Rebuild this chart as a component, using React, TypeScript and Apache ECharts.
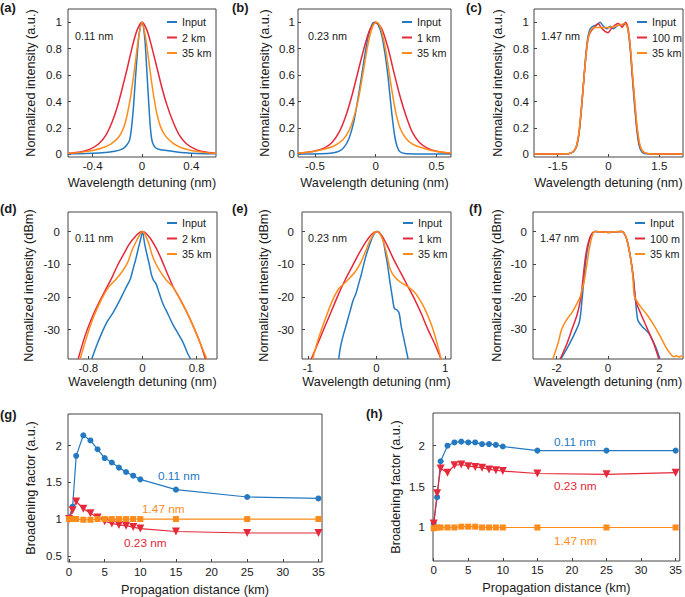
import React, { useEffect, useRef } from 'react';
import * as echarts from 'echarts';

const FONT = "'Liberation Sans', Arial, Helvetica, sans-serif";
const TXT = '#1a1a1a';
const BLUE = '#2479c1';
const RED = '#e5283a';
const ORANGE = '#ff8c1a';

// ---------- Panel (a) 0.11 nm, linear ----------
const aInput = [[-0.6,0.004],[-0.45,0.007],[-0.35,0.011],[-0.26,0.018],[-0.19,0.03],[-0.15,0.045],[-0.12,0.075],[-0.1,0.11],[-0.085,0.2],[-0.07,0.35],[-0.055,0.55],[-0.04,0.74],[-0.025,0.9],[-0.01,0.98],[0,1],[0.012,0.96],[0.025,0.85],[0.04,0.62],[0.055,0.38],[0.07,0.18],[0.085,0.09],[0.11,0.05],[0.15,0.035],[0.2,0.03],[0.27,0.02],[0.35,0.012],[0.45,0.007],[0.6,0.004]];
const a2km = [[-0.6,0.008],[-0.5,0.018],[-0.42,0.04],[-0.35,0.08],[-0.29,0.15],[-0.24,0.25],[-0.2,0.36],[-0.16,0.5],[-0.12,0.65],[-0.08,0.81],[-0.04,0.94],[0,1],[0.04,0.94],[0.08,0.81],[0.12,0.66],[0.16,0.51],[0.2,0.38],[0.25,0.25],[0.3,0.15],[0.36,0.08],[0.43,0.04],[0.5,0.02],[0.6,0.008]];
const a35km = [[-0.6,0.008],[-0.5,0.015],[-0.4,0.03],[-0.32,0.05],[-0.25,0.08],[-0.19,0.13],[-0.15,0.2],[-0.12,0.3],[-0.09,0.45],[-0.06,0.65],[-0.03,0.87],[0,1],[0.03,0.88],[0.06,0.67],[0.09,0.47],[0.12,0.31],[0.15,0.21],[0.19,0.14],[0.25,0.085],[0.32,0.05],[0.4,0.03],[0.5,0.015],[0.6,0.008]];

// ---------- Panel (b) 0.23 nm, linear ----------
const bInput = [[-0.64,0.003],[-0.45,0.005],[-0.36,0.01],[-0.3,0.025],[-0.26,0.055],[-0.22,0.12],[-0.18,0.25],[-0.15,0.4],[-0.12,0.57],[-0.09,0.75],[-0.06,0.9],[-0.03,0.985],[-0.01,1],[0.02,0.98],[0.05,0.9],[0.08,0.74],[0.1,0.6],[0.12,0.42],[0.14,0.25],[0.16,0.12],[0.18,0.05],[0.2,0.02],[0.24,0.006],[0.35,0.003],[0.62,0.002]];
const b1km = [[-0.64,0.01],[-0.52,0.022],[-0.43,0.045],[-0.36,0.09],[-0.3,0.17],[-0.25,0.28],[-0.2,0.43],[-0.15,0.61],[-0.1,0.79],[-0.05,0.94],[0,1],[0.05,0.95],[0.1,0.81],[0.15,0.62],[0.2,0.44],[0.25,0.29],[0.3,0.17],[0.36,0.09],[0.43,0.045],[0.52,0.02],[0.62,0.008]];
const b35km = [[-0.64,0.01],[-0.52,0.02],[-0.42,0.04],[-0.34,0.065],[-0.27,0.11],[-0.22,0.18],[-0.18,0.28],[-0.14,0.43],[-0.1,0.64],[-0.06,0.85],[-0.02,0.98],[0.01,1],[0.04,0.96],[0.08,0.8],[0.12,0.56],[0.16,0.34],[0.2,0.2],[0.25,0.12],[0.3,0.08],[0.38,0.05],[0.48,0.025],[0.62,0.01]];

// ---------- Panel (c) 1.47 nm, linear ----------
const cInput = [[-2.2,0.002],[-1.3,0.003],[-1.1,0.01],[-1.0,0.03],[-0.92,0.08],[-0.85,0.2],[-0.78,0.4],[-0.72,0.6],[-0.66,0.78],[-0.6,0.9],[-0.54,0.95],[-0.45,0.97],[-0.35,0.98],[-0.25,1.0],[-0.15,0.97],[-0.05,0.95],[0.05,0.97],[0.15,0.95],[0.25,0.97],[0.35,0.98],[0.45,0.98],[0.52,0.99],[0.58,0.93],[0.64,0.8],[0.7,0.6],[0.76,0.4],[0.83,0.2],[0.9,0.07],[0.98,0.02],[1.1,0.005],[2.2,0.002]];
const c100m = [[-2.2,0.002],[-1.2,0.004],[-1.05,0.02],[-0.95,0.06],[-0.87,0.17],[-0.8,0.35],[-0.73,0.56],[-0.66,0.76],[-0.6,0.88],[-0.52,0.93],[-0.42,0.96],[-0.3,0.99],[-0.22,0.96],[-0.1,0.93],[-0.02,0.92],[0.08,0.95],[0.2,0.98],[0.3,0.99],[0.4,0.96],[0.5,1.0],[0.58,0.95],[0.64,0.82],[0.7,0.62],[0.77,0.4],[0.84,0.2],[0.92,0.07],[1.02,0.02],[1.2,0.005],[2.2,0.002]];
const c35km = [[-2.2,0.002],[-1.2,0.004],[-1.05,0.02],[-0.95,0.06],[-0.87,0.17],[-0.8,0.35],[-0.73,0.56],[-0.66,0.76],[-0.6,0.88],[-0.52,0.94],[-0.4,0.96],[-0.2,0.96],[0,0.96],[0.2,0.97],[0.35,0.98],[0.48,0.99],[0.56,0.96],[0.63,0.85],[0.7,0.64],[0.77,0.42],[0.84,0.22],[0.92,0.08],[1.02,0.02],[1.2,0.005],[2.2,0.002]];

// ---------- Panel (d) 0.11 nm, dBm ----------
const dInput = [[-0.75,-39],[-0.68,-35],[-0.6,-31],[-0.52,-27.5],[-0.44,-25],[-0.36,-22],[-0.3,-19.5],[-0.24,-17],[-0.18,-14.5],[-0.14,-11.5],[-0.1,-8.5],[-0.06,-5],[-0.03,-2.5],[0,0],[0.03,-3.5],[0.06,-6.5],[0.1,-10],[0.13,-13],[0.16,-14.8],[0.2,-16],[0.25,-19],[0.3,-22],[0.37,-25],[0.45,-28.5],[0.52,-31],[0.6,-34],[0.66,-37],[0.71,-39]];
const d2km = [[-0.95,-39],[-0.85,-32],[-0.75,-26.5],[-0.65,-22],[-0.55,-18],[-0.45,-14],[-0.36,-10],[-0.28,-7],[-0.2,-4],[-0.12,-1.8],[-0.05,-0.4],[0,0],[0.05,-0.5],[0.12,-2.2],[0.2,-5],[0.28,-8.5],[0.36,-12.5],[0.45,-16.8],[0.55,-20.5],[0.65,-24.5],[0.75,-29],[0.85,-34],[0.93,-39]];
const d35km = [[-0.92,-39],[-0.82,-32],[-0.72,-26],[-0.6,-20.5],[-0.5,-17],[-0.4,-14.8],[-0.3,-12.2],[-0.22,-9.5],[-0.15,-5.5],[-0.08,-2.5],[-0.03,-0.6],[0,0],[0.04,-1],[0.09,-3.5],[0.14,-7],[0.2,-10],[0.27,-12.5],[0.35,-14.8],[0.45,-17],[0.55,-20.5],[0.65,-24.5],[0.75,-29],[0.85,-34],[0.95,-39]];

// ---------- Panel (e) 0.23 nm, dBm ----------
const eInput = [[-0.55,-39],[-0.53,-36],[-0.5,-33],[-0.46,-30],[-0.42,-27],[-0.38,-24],[-0.34,-21],[-0.3,-19],[-0.26,-16],[-0.22,-13],[-0.18,-9.5],[-0.14,-6.5],[-0.1,-4],[-0.06,-1.8],[-0.02,-0.3],[0.02,0],[0.06,-0.8],[0.1,-3],[0.13,-6.5],[0.16,-10],[0.2,-16],[0.23,-20],[0.26,-23.5],[0.3,-24],[0.33,-25],[0.36,-29],[0.4,-33],[0.43,-36],[0.46,-39]];
const e1km = [[-0.95,-39],[-0.85,-34],[-0.75,-29],[-0.65,-24],[-0.55,-19],[-0.45,-14.5],[-0.35,-10.5],[-0.25,-6.5],[-0.15,-3],[-0.07,-0.8],[0,0],[0.07,-1],[0.15,-4],[0.25,-8.5],[0.35,-12.5],[0.45,-16.5],[0.55,-20.5],[0.65,-25],[0.75,-30],[0.85,-34.5],[0.94,-39]];
const e35km = [[-0.93,-39],[-0.85,-33],[-0.75,-27],[-0.65,-21.5],[-0.55,-17.5],[-0.45,-15.5],[-0.38,-14],[-0.3,-12],[-0.23,-9.5],[-0.16,-6],[-0.1,-3],[-0.04,-0.6],[0,0],[0.05,-0.7],[0.1,-3],[0.15,-7],[0.2,-11.5],[0.27,-14],[0.35,-15.5],[0.45,-16.8],[0.55,-18.5],[0.62,-20.5],[0.7,-23.5],[0.8,-28.5],[0.88,-34],[0.94,-39]];

// ---------- Panel (f) 1.47 nm, dBm ----------
const fInput = [[-1.84,-39.2],[-1.6,-36],[-1.4,-33],[-1.22,-30],[-1.12,-28],[-1.06,-25],[-1.0,-20],[-0.94,-15],[-0.88,-10],[-0.8,-5.5],[-0.7,-2],[-0.6,-0.5],[-0.5,0],[-0.3,-0.1],[-0.1,-0.2],[0.1,-0.3],[0.3,-0.1],[0.55,0],[0.63,-0.6],[0.74,-2.6],[0.87,-7.7],[0.98,-13.8],[1.07,-21],[1.16,-27.2],[1.33,-29.2],[1.59,-31.3],[1.85,-35.4],[2.02,-39.2]];
const f100m = [[-1.86,-39.2],[-1.6,-34.5],[-1.4,-30],[-1.2,-25.5],[-1.06,-20.5],[-1.0,-16.5],[-0.94,-12],[-0.88,-8],[-0.8,-4.5],[-0.7,-1.8],[-0.6,-0.4],[-0.5,0],[-0.3,-0.1],[0,-0.3],[0.3,-0.1],[0.55,0],[0.63,-0.6],[0.74,-2.6],[0.87,-7.7],[0.98,-13.8],[1.07,-21],[1.26,-25],[1.52,-29.7],[1.78,-34.4],[1.98,-39.2]];
const f35km = [[-2.15,-39.2],[-1.95,-34.5],[-1.8,-30],[-1.6,-27],[-1.41,-25],[-1.2,-22],[-1.08,-20],[-0.98,-17],[-0.92,-15],[-0.82,-10],[-0.72,-5],[-0.62,-1.5],[-0.53,0],[-0.3,-0.1],[0,-0.3],[0.3,-0.1],[0.55,0],[0.63,-0.6],[0.74,-2.6],[0.87,-7.7],[0.97,-14],[1.03,-20],[1.26,-23],[1.52,-25.6],[1.78,-28.7],[2.04,-32.3],[2.24,-35.4],[2.41,-37.4],[2.56,-38.5],[2.66,-38.2],[2.76,-38.6],[2.86,-38.3],[2.92,-38.8]];

// ---------- Panels (g), (h): broadening factor ----------
const distances = [0, 0.5, 1, 2, 3, 4, 5, 6, 7, 8, 9, 10, 15, 25, 35];
const gBlue = [1.02, 1.17, 1.86, 2.14, 2.07, 1.95, 1.83, 1.77, 1.70, 1.64, 1.59, 1.54, 1.40, 1.30, 1.28];
const gRed = [1.0, 1.12, 1.24, 1.14, 1.08, 1.02, 0.97, 0.94, 0.92, 0.91, 0.89, 0.87, 0.83, 0.81, 0.81];
const gOrange = [1.0, 1.0, 1.0, 0.99, 0.99, 1.0, 1.0, 1.0, 1.0, 1.0, 1.0, 1.0, 1.0, 1.0, 1.0];
const hBlue = [1.05, 1.37, 1.81, 2.0, 2.04, 2.05, 2.04, 2.04, 2.02, 2.02, 2.01, 1.99, 1.94, 1.94, 1.94];
const hRed = [1.05, 1.42, 1.72, 1.67, 1.76, 1.77, 1.75, 1.74, 1.73, 1.71, 1.70, 1.69, 1.66, 1.65, 1.67];
const hOrange = [0.99, 1.0, 1.0, 1.0, 1.0, 1.01, 1.01, 1.01, 1.0, 1.0, 1.0, 1.0, 1.0, 1.0, 1.0];

// tick labels
const linTicks = [0, 0.2, 0.4, 0.6, 0.8, 1];
const dbTicks = [-30, -20, -10, 0];
const aTicks = [-0.4, 0, 0.4];
const bTicks = [-0.5, 0, 0.5];
const cTicks = [-1.5, 0, 1.5];
const dTicks = [-0.8, 0, 0.8];
const eTicks = [-1, 0, 1];
const fTicks = [-2, 0, 2];
const distTicks = [0, 5, 10, 15, 20, 25, 30, 35];
const gYTicks = [0.5, 1, 1.5, 2];
const hYTicks = [1, 1.5, 2];

const XNAME = 'Wavelength detuning (nm)';
const YLIN = 'Normalized intensity (a.u.)';
const YDB = 'Normalized intensity (dBm)';

function axis(i: number, min: number, max: number, ticks: number[], name: string, nameGap: number, margin: number) {
  return {
    type: 'value', gridIndex: i, min, max, name, nameLocation: 'middle', nameGap,
    nameTextStyle: { fontSize: 12.7, color: TXT, fontFamily: FONT },
    axisLine: { show: false, onZero: false }, splitLine: { show: false },
    axisTick: { show: true, inside: true, length: 3, customValues: ticks, lineStyle: { color: '#444' } },
    axisLabel: { customValues: ticks, margin, fontSize: 11.5, color: TXT, fontFamily: FONT, formatter: (v: number) => String(v) },
  };
}

function curve(i: number, name: string, data: number[][], color: string) {
  return {
    type: 'line', name, xAxisIndex: i, yAxisIndex: i, data, color,
    showSymbol: false, symbol: 'none', smooth: 0.25,
    lineStyle: { width: 1.5, color }, itemStyle: { color },
  };
}
function marked(i: number, name: string, ys: number[], color: string, symbol: string, size: number, rotate = 0) {
  return {
    type: 'line', name, xAxisIndex: i, yAxisIndex: i, color,
    data: distances.map((d, k) => [d, ys[k]]),
    symbol, symbolSize: size, symbolRotate: rotate, showSymbol: true,
    lineStyle: { width: 1.2, color }, itemStyle: { color },
  };
}
function legend(names: string[], left: number, top: number) {
  return {
    data: names, orient: 'vertical', left, top, icon: 'rect', itemWidth: 10, itemHeight: 2,
    itemGap: 2.5, selectedMode: false, padding: 0,
    textStyle: { fontSize: 10.8, color: TXT, fontFamily: FONT, lineHeight: 13 },
  };
}
function txt(text: string, x: number, y: number, size: number, color = TXT, bold = false) {
  return {
    type: 'text', x, y, silent: true,
    style: { text, fontSize: size, fontFamily: FONT, fontWeight: bold ? 'bold' : 'normal', fill: color, align: 'left', verticalAlign: 'middle' },
  };
}

export default function App() {
  const ref = useRef<HTMLDivElement>(null);
  useEffect(() => {
    if (!ref.current) return;
    const chart = echarts.init(ref.current, undefined, { renderer: 'svg' });
    const gridBox = { show: true, borderColor: '#444', borderWidth: 1, backgroundColor: 'transparent' };
    const option = {
      animation: false,
      backgroundColor: '#ffffff',
      grid: [
        { left: 68, top: 9, width: 148, height: 148, ...gridBox },
        { left: 298, top: 9, width: 153, height: 148, ...gridBox },
        { left: 534, top: 9, width: 149, height: 148, ...gridBox },
        { left: 68, top: 212, width: 149, height: 147, ...gridBox },
        { left: 302, top: 212, width: 149, height: 147, ...gridBox },
        { left: 533, top: 212, width: 150, height: 147, ...gridBox },
        { left: 68, top: 414, width: 254, height: 149, ...gridBox },
        { left: 433, top: 413, width: 250, height: 148, ...gridBox },
      ],
      xAxis: [
        axis(0, -0.6, 0.6, aTicks, XNAME, 19, 3),
        axis(1, -0.64, 0.62, bTicks, XNAME, 19, 3),
        axis(2, -2.2, 2.2, cTicks, XNAME, 19, 3),
        axis(3, -1.1, 1.1, dTicks, XNAME, 16, 3),
        axis(4, -1.085, 1.085, eTicks, XNAME, 16, 3),
        axis(5, -2.92, 2.92, fTicks, XNAME, 16, 3),
        axis(6, -0.15, 35.5, distTicks, 'Propagation distance (km)', 21, 4),
        axis(7, -0.1, 35.6, distTicks, 'Propagation distance (km)', 20, 3),
      ],
      yAxis: [
        axis(0, -0.02, 1.1, linTicks, YLIN, 31, 6),
        axis(1, -0.02, 1.1, linTicks, YLIN, 27, 3),
        axis(2, -0.02, 1.1, linTicks, YLIN, 30, 5),
        axis(3, -39, 6, dbTicks, YDB, 33, 8),
        axis(4, -39, 6, dbTicks, YDB, 32, 8),
        axis(5, -39.2, 6, dbTicks, YDB, 30, 6),
        axis(6, 0.415, 2.43, gYTicks, 'Broadening factor (a.u.)', 31, 6),
        axis(7, 0.59, 2.4, hYTicks, 'Broadening factor (a.u.)', 31, 8),
      ],
      legend: [
        legend(['Input', '2 km', '35 km'], 167, 15.5),
        legend(['Input', '1 km', '35 km'], 402, 15.5),
        legend(['Input', '100 m', '35 km'], 637, 15.5),
        legend(['Input', '2 km', '35 km'], 167, 216.5),
        legend(['Input', '1 km', '35 km'], 403, 216.5),
        legend(['Input', '100 m', '35 km'], 635, 216.5),
      ],
      series: [
        curve(0, 'Input', aInput, BLUE), curve(0, '2 km', a2km, RED), curve(0, '35 km', a35km, ORANGE),
        curve(1, 'Input', bInput, BLUE), curve(1, '1 km', b1km, RED), curve(1, '35 km', b35km, ORANGE),
        curve(2, 'Input', cInput, BLUE), curve(2, '100 m', c100m, RED), curve(2, '35 km', c35km, ORANGE),
        curve(3, 'Input', dInput, BLUE), curve(3, '2 km', d2km, RED), curve(3, '35 km', d35km, ORANGE),
        curve(4, 'Input', eInput, BLUE), curve(4, '1 km', e1km, RED), curve(4, '35 km', e35km, ORANGE),
        curve(5, 'Input', fInput, BLUE), curve(5, '100 m', f100m, RED), curve(5, '35 km', f35km, ORANGE),
        marked(6, 'g 0.11 nm', gBlue, BLUE, 'circle', 6),
        marked(6, 'g 0.23 nm', gRed, RED, 'triangle', 8, 180),
        marked(6, 'g 1.47 nm', gOrange, ORANGE, 'rect', 6),
        marked(7, 'h 0.11 nm', hBlue, BLUE, 'circle', 6),
        marked(7, 'h 0.23 nm', hRed, RED, 'triangle', 8, 180),
        marked(7, 'h 1.47 nm', hOrange, ORANGE, 'rect', 6),
      ],
      graphic: [
        txt('(a)', 0, 7, 13, TXT, true),
        txt('(b)', 232, 7, 13, TXT, true),
        txt('(c)', 466, 7, 13, TXT, true),
        txt('(d)', 0, 208, 13, TXT, true),
        txt('(e)', 232, 208, 13, TXT, true),
        txt('(f)', 469, 208, 13, TXT, true),
        txt('(g)', 0, 414, 13, TXT, true),
        txt('(h)', 366, 413, 13, TXT, true),
        txt('0.11 nm', 75, 36, 10.8),
        txt('0.23 nm', 308, 36, 10.8),
        txt('1.47 nm', 541, 36, 10.8),
        txt('0.11 nm', 75, 238, 10.8),
        txt('0.23 nm', 308, 238, 10.8),
        txt('1.47 nm', 540, 238, 10.8),
        txt('0.11 nm', 158, 476, 11.8, BLUE),
        txt('1.47 nm', 142, 509, 11.8, ORANGE),
        txt('0.23 nm', 124, 543, 11.8, RED),
        txt('0.11 nm', 554, 442, 11.8, BLUE),
        txt('0.23 nm', 554, 486, 11.8, RED),
        txt('1.47 nm', 554, 541, 11.8, ORANGE),
      ],
    };
    chart.setOption(option as any);
    return () => chart.dispose();
  }, []);
  return <div ref={ref} style={{ position: 'fixed', left: 0, top: 0, width: 685, height: 597, background: '#fff' }} />;
}
